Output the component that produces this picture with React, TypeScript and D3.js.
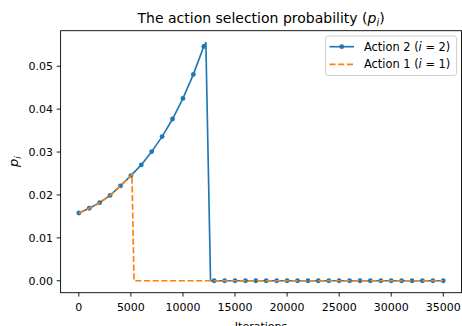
// Action selection probability chart, matplotlib-style, drawn with D3
import { useEffect, useRef } from "react"
import * as d3 from "d3"

// Action 2 (i = 2): dense samples, markers on every 1000 iterations
const action2Iters = [
  0, 1000, 2000, 3000, 4000, 5000, 6000, 7000, 8000, 9000, 10000, 11000, 12000, 12200, 12650,
  13000, 14000, 15000, 16000, 17000, 18000, 19000, 20000, 21000, 22000, 23000, 24000,
  25000, 26000, 27000, 28000, 29000, 30000, 31000, 32000, 33000, 34000, 35000
]
const action2Values = [
  0.0158, 0.0169, 0.0182, 0.0199, 0.0221, 0.0245, 0.0270, 0.0301, 0.0336, 0.0377, 0.0425, 0.0481, 0.0546, 0.0555, 0,
  0, 0, 0, 0, 0, 0, 0, 0, 0, 0, 0, 0,
  0, 0, 0, 0, 0, 0, 0, 0, 0, 0, 0
]

// Action 1 (i = 1)
const action1Iters = [0, 1000, 2000, 3000, 4000, 5000, 5100, 5300, 35000]
const action1Values = [0.0158, 0.0169, 0.0182, 0.0199, 0.0221, 0.0245, 0.0248, 0, 0]

const xTicks = [0, 5000, 10000, 15000, 20000, 25000, 30000, 35000]
const yTicks = [0, 0.01, 0.02, 0.03, 0.04, 0.05]

const BLUE = "#1f77b4"
const ORANGE = "#ff7f0e"
const FONT = "DejaVu Sans, sans-serif"

export default function App() {
  const svgRef = useRef<SVGSVGElement>(null)

  useEffect(() => {
    if (!svgRef.current) return
    const svg = d3.select(svgRef.current)
    svg.selectAll("*").remove()

    const left = 60.6, right = 461.5, top = 30.7, bottom = 292.7

    const x = d3.scaleLinear().domain([-1750, 36750]).range([left, right])
    const y = d3.scaleLinear().domain([-0.00278, 0.05828]).range([bottom, top])

    // Title
    const title = svg.append("text")
      .attr("x", (left + right) / 2)
      .attr("y", 23)
      .attr("text-anchor", "middle")
      .attr("font-family", FONT)
      .attr("font-size", 14)
      .attr("fill", "#000")
    title.append("tspan").text("The action selection probability (")
    title.append("tspan").attr("font-style", "italic").text("p")
    title.append("tspan").attr("font-style", "italic").attr("font-size", 9.8).attr("dy", 2.6).text("i")
    title.append("tspan").attr("dy", -2.6).text(")")

    const plot = svg.append("g")

    // Lines
    const line = d3.line<[number, number]>().x(d => x(d[0])).y(d => y(d[1]))
    const a2: [number, number][] = action2Iters.map((t, i) => [t, action2Values[i]])
    const a1: [number, number][] = action1Iters.map((t, i) => [t, action1Values[i]])

    plot.append("path")
      .attr("d", line(a2))
      .attr("fill", "none")
      .attr("stroke", BLUE)
      .attr("stroke-width", 1.65)
      .attr("stroke-linejoin", "round")

    plot.selectAll(".mk")
      .data(a2.filter(d => d[0] % 1000 === 0))
      .enter()
      .append("circle")
      .attr("cx", d => x(d[0]))
      .attr("cy", d => y(d[1]))
      .attr("r", 2.4)
      .attr("fill", BLUE)

    plot.append("path")
      .attr("d", line(a1))
      .attr("fill", "none")
      .attr("stroke", ORANGE)
      .attr("stroke-width", 1.65)
      .attr("stroke-dasharray", "6.1,2.6")

    // Spines
    svg.append("rect")
      .attr("x", left).attr("y", top)
      .attr("width", right - left).attr("height", bottom - top)
      .attr("fill", "none").attr("stroke", "#000").attr("stroke-width", 0.9)

    // X axis
    const xAxis = svg.append("g")
    xTicks.forEach(t => {
      xAxis.append("line")
        .attr("x1", x(t)).attr("x2", x(t))
        .attr("y1", bottom).attr("y2", bottom + 3.9)
        .attr("stroke", "#000").attr("stroke-width", 0.9)
      xAxis.append("text")
        .attr("x", x(t)).attr("y", bottom + 18)
        .attr("text-anchor", "middle")
        .attr("font-family", FONT).attr("font-size", 11)
        .text(String(t))
    })
    svg.append("text")
      .attr("x", (left + right) / 2).attr("y", 329.5)
      .attr("text-anchor", "middle")
      .attr("font-family", FONT).attr("font-size", 11)
      .text("Iterations")

    // Y axis
    const yAxis = svg.append("g")
    const fmt = d3.format(".2f")
    yTicks.forEach(t => {
      yAxis.append("line")
        .attr("x1", left - 3.9).attr("x2", left)
        .attr("y1", y(t)).attr("y2", y(t))
        .attr("stroke", "#000").attr("stroke-width", 0.9)
      yAxis.append("text")
        .attr("x", left - 7.7).attr("y", y(t))
        .attr("dy", "0.36em")
        .attr("text-anchor", "end")
        .attr("font-family", FONT).attr("font-size", 11)
        .text(fmt(t))
    })
    const yl = svg.append("text")
      .attr("transform", `translate(18,${(top + bottom) / 2}) rotate(-90)`)
      .attr("text-anchor", "middle")
      .attr("font-family", FONT).attr("font-size", 13)
    yl.append("tspan").attr("font-style", "italic").text("p")
    yl.append("tspan").attr("font-style", "italic").attr("font-size", 9).attr("dy", 2.6).text("i")

    // Legend
    const lg = svg.append("g")
    lg.append("rect")
      .attr("x", 325.5).attr("y", 36)
      .attr("width", 131).attr("height", 39.5)
      .attr("rx", 2.5)
      .attr("fill", "rgba(255,255,255,0.8)")
      .attr("stroke", "#cccccc").attr("stroke-width", 0.9)

    const entries = [
      { label: "Action 2 (", num: "2", color: BLUE, dash: null as string | null, marker: true },
      { label: "Action 1 (", num: "1", color: ORANGE, dash: "6.1,2.6", marker: false }
    ]
    entries.forEach((e, i) => {
      const cy = 46.7 + i * 17.6
      lg.append("line")
        .attr("x1", 329.5).attr("x2", 354)
        .attr("y1", cy).attr("y2", cy)
        .attr("stroke", e.color).attr("stroke-width", 1.65)
        .attr("stroke-dasharray", e.dash)
      if (e.marker) {
        lg.append("circle").attr("cx", 341.75).attr("cy", cy).attr("r", 2.4).attr("fill", e.color)
      }
      const tx = lg.append("text")
        .attr("x", 364).attr("y", cy).attr("dy", "0.36em")
        .attr("font-family", FONT).attr("font-size", 11.4)
      tx.append("tspan").text(e.label)
      tx.append("tspan").attr("font-style", "italic").text("i")
      tx.append("tspan").text(" = " + e.num + ")")
    })
  }, [])

  return (
    <div style={{ position: "fixed", left: 0, top: 0, width: 462, height: 326, background: "#fff" }}>
      <svg ref={svgRef} width={462} height={326} style={{ display: "block" }} />
    </div>
  )
}
